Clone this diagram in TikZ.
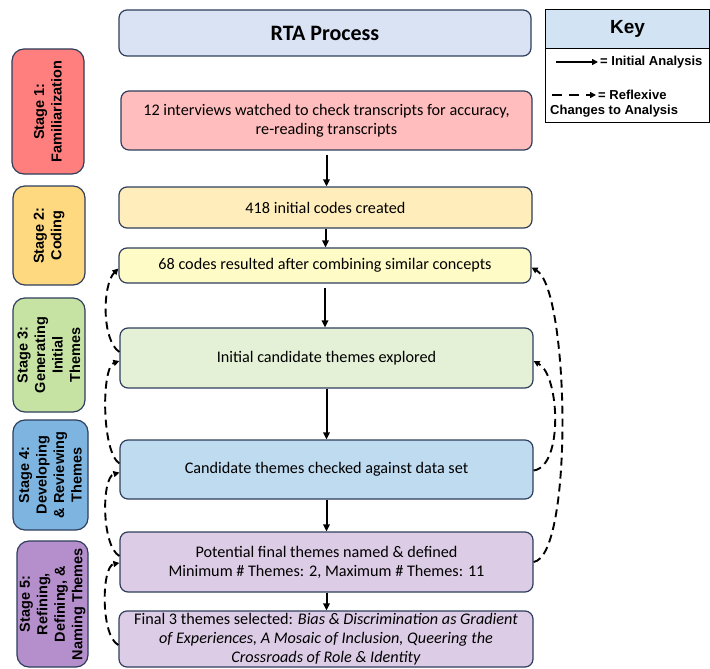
\documentclass[tikz,border=0pt]{standalone}
\usepackage{fontspec}
\setmainfont{Carlito}
\newfontfamily\arialfont{Liberation Sans}
\usetikzlibrary{arrows.meta}
\definecolor{navy}{HTML}{2E3E5C}
\definecolor{rtablue}{HTML}{DAE3F3}
\definecolor{keyblue}{HTML}{D2E3F3}
\definecolor{sone}{HTML}{FF7F7F}
\definecolor{bone}{HTML}{FFBDBD}
\definecolor{stwo}{HTML}{FFD97F}
\definecolor{btwo}{HTML}{FFEEBB}
\definecolor{bthree}{HTML}{FFFBC7}
\definecolor{sthree}{HTML}{C6E3A3}
\definecolor{bfour}{HTML}{E4F1D6}
\definecolor{sfour}{HTML}{7EB5E0}
\definecolor{bfive}{HTML}{BFDBF0}
\definecolor{sfive}{HTML}{B58FCB}
\definecolor{bsix}{HTML}{DDCCE6}
\begin{document}
\begin{tikzpicture}[x=1pt,y=-1pt,
  mainbox/.style={draw=navy, line width=1.2pt, rounded corners=8pt, inner sep=0pt, align=center, font=\fontsize{16.2}{19}\selectfont},
  stagebox/.style={draw=navy, line width=1.2pt, rounded corners=12pt, rotate=90, inner sep=0pt, align=center, font=\arialfont\bfseries\fontsize{14.5}{17.5}\selectfont},
  flow/.style={-{Triangle[length=7pt,width=6.5pt]}, line width=2pt},
  reflex/.style={-{Triangle[length=6pt,width=6pt]}, line width=1.9pt, dash pattern=on 8pt off 5pt},
  keytext/.style={font=\arialfont\bfseries\fontsize{13}{15}\selectfont, inner sep=0pt}
]
\useasboundingbox (0,0) rectangle (710,669);

% header
\node[mainbox, fill=rtablue, minimum width=412pt, minimum height=46pt, font=\bfseries\fontsize{22}{26}\selectfont] (rta) at (325,33) {RTA Process};

% main boxes
\node[mainbox, fill=bone, minimum width=411pt, minimum height=59pt] (b1) at (326.5,120.5) {12 interviews watched to check transcripts for accuracy,\\re-reading transcripts};
\node[mainbox, fill=btwo, minimum width=413pt, minimum height=41pt] (b2) at (325.5,207.5) {418 initial codes created};
\node[mainbox, fill=bthree, minimum width=412pt, minimum height=35pt] (b3) at (325,265.5) {68 codes resulted after combining similar concepts};
\node[mainbox, fill=bfour, minimum width=413pt, minimum height=60pt] (b4) at (326.5,358) {Initial candidate themes explored};
\node[mainbox, fill=bfive, minimum width=413pt, minimum height=59pt] (b5) at (326.5,469.5) {Candidate themes checked against data set};
\node[mainbox, fill=bsix, minimum width=413pt, minimum height=60pt] (b6) at (326.5,562) {Potential final themes named \& defined\\Minimum \# Themes: 2, Maximum \# Themes: 11};
\node[mainbox, fill=bsix, minimum width=414pt, minimum height=56pt] (b7) at (326,639) {Final 3 themes selected: \textit{Bias \& Discrimination as Gradient}\\\textit{of Experiences, A Mosaic of Inclusion, Queering the}\\\textit{Crossroads of Role \& Identity}};

% stage boxes
\node[stagebox, fill=sone, minimum width=125pt, minimum height=72pt] (s1) at (48,111.5) {Stage 1:\\Familiarization};
\node[stagebox, fill=stwo, minimum width=99pt, minimum height=72pt] (s2) at (49,235.5) {Stage 2:\\Coding};
\node[stagebox, fill=sthree, minimum width=114pt, minimum height=72pt] (s3) at (49,355) {Stage 3:\\Generating\\Initial\\Themes};
\node[stagebox, fill=sfour, minimum width=110pt, minimum height=75pt] (s4) at (50.5,475) {Stage 4:\\Developing\\\& Reviewing\\Themes};
\node[stagebox, fill=sfive, minimum width=126pt, minimum height=71pt] (s5) at (52.5,604) {Stage 5:\\Refining,\\Defining, \&\\Naming Themes};

% key
\node[draw=black, line width=1.2pt, fill=keyblue, minimum width=164pt, minimum height=39pt, anchor=north west, inner sep=0pt, font=\arialfont\bfseries\fontsize{19}{21}\selectfont] (keyhead) at (545,9) {Key};
\node[draw=black, line width=1.2pt, minimum width=164pt, minimum height=74pt, anchor=north west, inner sep=0pt] (keybody) at (545,48) {};
\coordinate (k1s) at (556,62);
\coordinate (k1e) at (598,62);
\draw[-{Triangle[length=6pt,width=6pt]}, line width=1.7pt] (k1s) -- (k1e);
\node[keytext, anchor=west] (k1t) at (600,62) {= Initial Analysis};
\coordinate (k2s) at (552,95);
\coordinate (k2e) at (596,95);
\draw[-{Triangle[length=6pt,width=6pt]}, line width=1.7pt, dash pattern=on 10pt off 7pt] (k2s) -- (k2e);
\node[keytext, anchor=west] (k2t) at (598,95) {= Reflexive};
\node[keytext, anchor=west] (k3t) at (550,111) {Changes to Analysis};

% flow arrows
\draw[flow, shorten <=4pt] (b1.south) -- (b1.south |- b2.north);
\draw[flow] (b2.south) -- (b2.south |- b3.north);
\draw[flow, shorten <=4pt] (b3.south) -- (b3.south |- b4.north);
\draw[flow] (b4.south) -- (b4.south |- b5.north);
\draw[flow] (b5.south) -- (b5.south |- b6.north);
\draw[flow] (b6.south) -- (b6.south |- b7.north);

% reflexive arrows, left
\draw[reflex] ([yshift=-6pt]b7.west) .. controls +(-18,-9) and +(-18,3) .. ([yshift=-1pt]b6.west);
\draw[reflex] ([yshift=6pt]b6.west) .. controls +(-18,-10) and +(-18,5) .. ([yshift=-3pt]b5.west);
\draw[reflex] ([yshift=6pt]b5.west) .. controls +(-18,-12) and +(-18,6) .. ([yshift=-3pt]b4.west);
\draw[reflex] ([yshift=6pt]b4.west) .. controls +(-18,-12) and +(-16,16) .. ([yshift=-3pt]b3.west);

% reflexive arrows, right
\draw[reflex] (b6.east) .. controls +(40,-6) and +(38,22) .. ([yshift=-2pt]b3.east);
\draw[reflex] ([yshift=-1pt]b5.east) .. controls +(30,-4) and +(26,14) .. ([yshift=-3pt]b4.east);
\end{tikzpicture}
\end{document}
